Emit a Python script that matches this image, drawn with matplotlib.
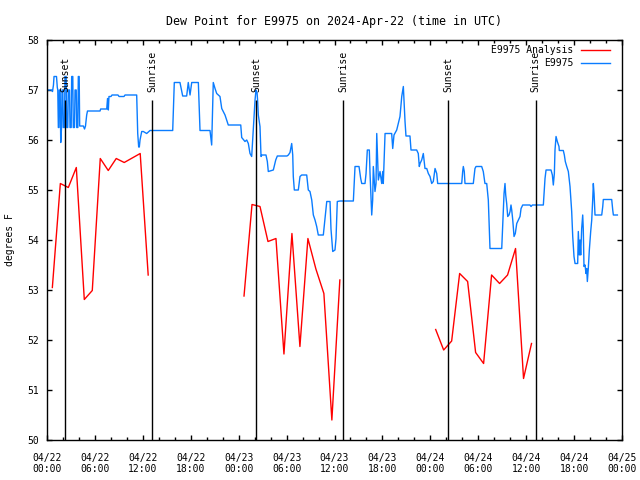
import matplotlib
matplotlib.use("Agg")
import matplotlib.pyplot as plt
import matplotlib.dates as mdates
import numpy as np
import pandas as pd

plt.rcParams['font.family'] = ['DejaVu Sans Mono']
plt.rcParams['font.size'] = 7

base = pd.Timestamp('2024-04-22 00:00')

# station obs (E9975), hours since 04/22 00:00 UTC
obs_hours = [
    0.00, 0.59, 0.69, 0.81, 0.88, 1.19, 1.29, 1.35,
    1.42, 1.50, 1.54, 1.65, 1.72, 1.82, 1.88, 1.98, 2.04, 2.19, 2.25, 2.40,
    2.47, 2.60, 2.67, 2.82, 2.88, 3.03, 3.09, 3.23, 3.29, 3.44, 3.51, 3.66,
    3.72, 3.86, 3.92, 4.03, 4.09,
    4.55, 4.70, 4.82, 4.97, 5.07, 6.64, 6.72, 7.48, 7.58, 7.68, 7.76, 8.01,
    8.14, 8.89, 9.02, 9.64, 9.77, 11.23, 11.36, 11.48, 11.56, 11.65, 11.86,
    12.06, 12.48, 12.90, 15.74, 15.94, 16.65, 16.99, 17.49, 17.69, 17.91,
    18.12, 18.95, 19.16, 20.41, 20.62, 20.82, 21.04, 21.25, 21.66, 21.88,
    22.29, 22.70, 24.26, 24.38, 24.79, 25.01, 25.21, 25.42, 25.63, 25.83,
    26.05, 26.17, 26.30, 26.38, 26.46, 26.67, 26.80, 26.92, 27.42, 27.59,
    27.71, 28.34, 28.64, 28.84, 30.05, 30.22, 30.43, 30.64, 30.77, 30.84,
    30.97, 31.47, 31.68, 31.89, 32.52, 32.72, 32.93, 33.15, 33.35, 33.56,
    33.77, 33.97, 34.60, 34.81, 35.03, 35.44, 35.56, 35.78, 36.06, 36.19,
    36.35, 36.69, 38.36, 38.57, 39.07, 39.28, 39.41, 39.82, 39.95, 40.11,
    40.36, 40.45, 40.66, 40.78, 40.86, 41.07, 41.20, 41.29, 41.49, 41.70,
    41.91, 42.04, 42.11, 42.24, 42.33, 43.16, 43.29, 43.45, 43.79, 43.99,
    44.20, 44.42, 44.62, 44.70, 44.83, 44.95, 45.45, 45.58, 46.29, 46.49,
    46.62, 46.71, 46.92, 47.12, 47.33, 47.55, 47.75, 47.96, 48.17, 48.37,
    48.59, 48.80, 48.92, 51.93, 52.05, 52.13, 52.25, 52.34, 53.38, 53.59,
    53.72, 54.43, 54.63, 54.84, 55.06, 55.26, 55.39, 55.47, 56.94, 57.06,
    57.14, 57.23, 57.35, 57.44, 57.56, 57.69, 57.85, 57.98, 58.10, 58.19,
    58.32, 58.48, 58.64, 58.82, 59.02, 59.23, 59.36, 59.57, 60.48, 60.61,
    60.77, 62.15, 62.36, 62.49, 63.11, 63.28, 63.40, 63.53, 63.61, 63.74,
    63.90, 64.11, 64.15, 64.65, 64.78, 64.90, 65.08, 65.28, 65.49, 65.70,
    65.83, 65.99, 66.12, 66.45, 66.53, 66.65, 66.74, 66.83, 66.95, 67.08,
    67.15, 67.24, 67.37, 67.49, 67.58, 67.66, 67.78, 67.91, 68.08, 68.21,
    68.33, 68.41, 68.50, 68.62, 69.46, 69.59, 69.66, 70.71, 70.84, 70.92,
    71.42,
]
obs_dewpt = [
    57.00, 57.00, 56.97, 57.10, 57.27, 57.27, 57.05, 57.00,
    56.25, 56.25, 57.00, 57.00, 55.95, 56.25, 57.00, 57.00, 56.25, 56.25, 57.27, 57.27,
    56.25, 56.25, 57.00, 57.00, 56.25, 56.25, 57.27, 57.27, 56.25, 56.25, 57.00, 57.00,
    56.25, 56.25, 57.27, 57.27, 56.28,
    56.28, 56.22, 56.28, 56.50, 56.58, 56.58, 56.62, 56.62, 56.83, 56.60, 56.87, 56.87,
    56.90, 56.90, 56.87, 56.87, 56.90, 56.90, 56.13, 55.86, 55.86, 56.00, 56.17,
    56.17, 56.13, 56.19, 56.19, 57.15, 57.15, 56.88, 56.88, 57.15, 56.90,
    57.15, 57.15, 56.19, 56.19, 55.90, 57.15, 57.03, 56.93, 56.87, 56.63,
    56.50, 56.30, 56.30, 56.05, 55.97, 56.00, 55.93, 55.73, 55.67, 56.20,
    56.80, 57.00, 56.95, 56.77, 56.50, 56.27, 55.67, 55.70, 55.70, 55.57,
    55.37, 55.40, 55.60, 55.68, 55.68, 55.70, 55.75, 55.93, 55.70, 55.27,
    55.00, 55.00, 55.27, 55.30, 55.30, 55.00, 54.97, 54.80, 54.50, 54.40,
    54.27, 54.10, 54.10, 54.43, 54.77, 54.77, 54.22, 53.77, 53.80, 54.03,
    54.77, 54.78, 54.78, 55.47, 55.47, 55.23, 55.13, 55.13, 55.33, 55.80,
    55.80, 55.33, 54.50, 54.80, 55.47, 54.97, 55.13, 56.13, 55.20, 55.37,
    55.13, 55.37, 55.13, 55.70, 56.13, 56.13, 55.83, 56.10, 56.20, 56.33,
    56.47, 56.87, 57.07, 56.80, 56.37, 56.08, 56.08, 55.80, 55.80, 55.73,
    55.47, 55.53, 55.60, 55.73, 55.43, 55.43, 55.33, 55.27, 55.13, 55.17,
    55.43, 55.33, 55.13, 55.13, 55.37, 55.47, 55.37, 55.13, 55.13, 55.43,
    55.47, 55.47, 55.37, 55.13, 55.13, 54.80, 54.20, 53.83, 53.83, 54.27,
    54.57, 54.93, 55.13, 54.90, 54.73, 54.47, 54.50, 54.57, 54.70, 54.60,
    54.40, 54.07, 54.13, 54.33, 54.40, 54.47, 54.63, 54.70, 54.70, 54.67,
    54.70, 54.70, 55.23, 55.40, 55.40, 55.30, 55.10, 55.33, 55.80, 56.07,
    55.97, 55.87, 55.79, 55.79, 55.70, 55.57, 55.47, 55.37, 55.07, 54.57,
    54.07, 53.67, 53.53, 53.53, 54.17, 53.70, 54.00, 53.70, 54.23, 54.50,
    54.23, 53.47, 53.50, 53.33, 53.43, 53.17, 53.43, 53.80, 54.17, 54.40,
    54.80, 55.13, 54.93, 54.50, 54.50, 54.67, 54.81, 54.81, 54.60, 54.50,
    54.50,
]

# hourly analysis, three runs starting at these hours
anl_start = [0.67, 24.67, 48.67]
anl_dewpt = [
    [53.05, 55.13, 55.05, 55.45, 52.81, 52.99, 55.63, 55.39, 55.63, 55.55, 55.64, 55.73, 53.30],
    [52.88, 54.71, 54.67, 53.97, 54.03, 51.72, 54.13, 51.87, 54.03, 53.42, 52.93, 50.40, 53.20],
    [52.21, 51.80, 51.98, 53.33, 53.17, 51.75, 51.53, 53.30, 53.13, 53.30, 53.83, 51.23, 51.93],
]

sun_hours = [2.29, 13.19, 26.17, 37.10, 50.25, 61.20]
sun_labels = ['Sunset', 'Sunrise', 'Sunset', 'Sunrise', 'Sunset', 'Sunrise']


def to_time(hours):
    return base + pd.to_timedelta(np.asarray(hours), unit='h')


fig = plt.figure(figsize=(6.4, 4.8), dpi=100)
ax = fig.add_axes([47 / 640, 40 / 480, 575 / 640, 400 / 480])

for i, (start, vals) in enumerate(zip(anl_start, anl_dewpt)):
    hrs = start + np.arange(len(vals))
    ax.plot(to_time(hrs), vals, color='#ff0000', lw=1.0,
            label='E9975 Analysis' if i == 0 else None)

ax.plot(to_time(obs_hours), obs_dewpt, color='#0a7cff', lw=1.0, label='E9975')

for h, lab in zip(sun_hours, sun_labels):
    t = to_time([h])[0]
    ax.vlines(t, 50, 56.8, color='black', lw=1.0)
    ax.text(t, 56.96, lab, rotation=90, ha='center', va='bottom')

ax.set_xlim(base, base + pd.Timedelta(hours=72))
ax.set_ylim(50, 58)
ax.set_yticks(range(50, 59))

ax.xaxis.set_major_locator(mdates.HourLocator(byhour=[0, 6, 12, 18]))
ax.xaxis.set_minor_locator(mdates.HourLocator(byhour=range(0, 24, 2)))
ax.xaxis.set_major_formatter(mdates.DateFormatter('%m/%d\n%H:%M'))

ax.tick_params(which='both', direction='in', top=True, right=True)
ax.tick_params(which='major', length=3.6, width=1.0)
ax.tick_params(which='minor', length=2.2, width=1.0)
ax.tick_params(axis='x', pad=9)
ax.tick_params(axis='y', pad=6)
for sp in ax.spines.values():
    sp.set_linewidth(1.0)

ax.set_ylabel('degrees F')
ax.yaxis.set_label_coords(-32 / 575, 0.5)
ax.set_title('Dew Point for E9975 on 2024-Apr-22 (time in UTC)', pad=11)

ax.legend(loc='upper right', frameon=False, markerfirst=False,
          handlelength=3.0, handletextpad=0.8, labelspacing=0.3,
          borderpad=0, borderaxespad=0,
          bbox_to_anchor=(1 - 12 / 575, 1 - 5 / 400))

fig.savefig('out.png', dpi=100)
